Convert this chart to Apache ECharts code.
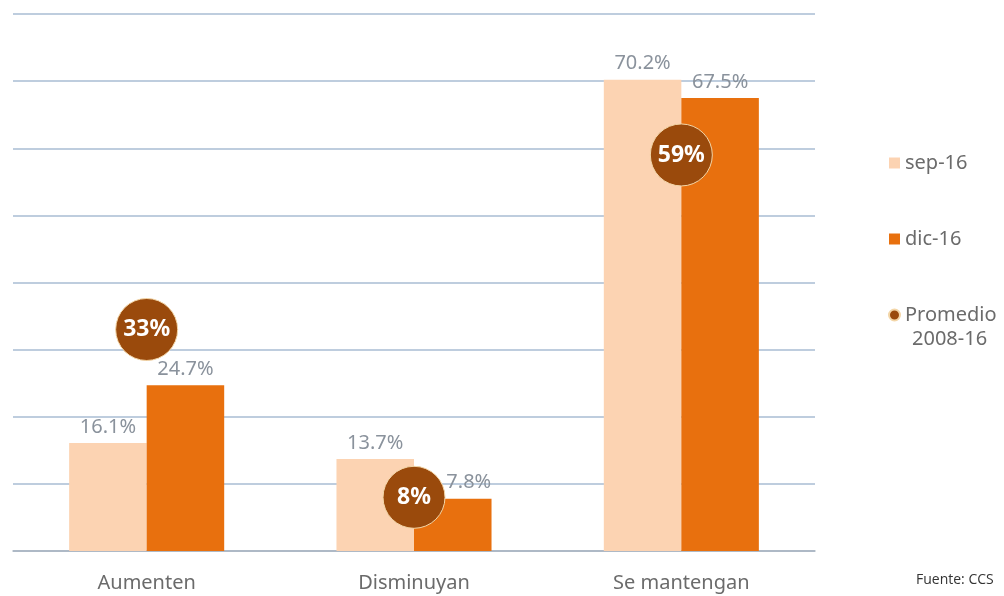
<!DOCTYPE html>
<html>
<head>
<meta charset="utf-8">
<script src="https://cdn.jsdelivr.net/npm/echarts@6/dist/echarts.min.js"></script>
<style>
  html, body { margin: 0; padding: 0; background: #fff; }
  #chart { width: 1004px; height: 596px; }
</style>
</head>
<body>
<div id="chart"></div>
<script>
const categories = ["Aumenten", "Disminuyan", "Se mantengan"];
const sep16 = [16.1, 13.7, 70.2];
const dic16 = [24.7, 7.8, 67.5];
const promedio = [33, 8, 59];

const chart = echarts.init(document.getElementById("chart"));
const fontFamily = "'Noto Sans', sans-serif";

const barLabel = {
  show: true,
  position: "top",
  distance: 6,
  color: "#8a929c",
  fontSize: 20,
  fontFamily: fontFamily,
  formatter: (p) => p.value.toFixed(1) + "%",
};

// the 7.8% label sits a bit to the right in the original, next to the bubble
const dic16Data = dic16.map((v, i) =>
  i === 1 ? { value: v, label: { offset: [16, 0] } } : v
);

const option = {
  animation: false,
  grid: { left: 13, right: 189, top: 14, bottom: 45 },
  xAxis: {
    type: "category",
    data: categories,
    axisTick: { show: false },
    axisLine: { lineStyle: { color: "#a9b3bf", width: 1.5 } },
    axisLabel: { color: "#6b6b6b", fontSize: 20, fontFamily: fontFamily, margin: 22 },
  },
  yAxis: {
    type: "value",
    min: 0,
    max: 80,
    interval: 10,
    axisLabel: { show: false },
    splitLine: { lineStyle: { color: "#a9bdd3", width: 1.5 } },
  },
  legend: {
    orient: "vertical",
    left: 883,
    top: 146,
    itemWidth: 11,
    itemHeight: 11,
    itemGap: 52,
    textStyle: { color: "#6b6b6b", fontSize: 20, fontFamily: fontFamily, lineHeight: 24 },
    data: [
      { name: "sep-16", icon: "rect" },
      { name: "dic-16", icon: "rect" },
      { name: "Promedio", icon: "circle" },
    ],
  },
  graphic: [
    {
      type: "text",
      left: 912,
      top: 329,
      style: { text: "2008-16", fill: "#6b6b6b", font: "20px 'Noto Sans', sans-serif" },
    },
    {
      type: "text",
      left: 916,
      top: 573,
      style: { text: "Fuente: CCS", fill: "#333", font: "14px 'Open Sans', sans-serif" },
    },
  ],
  series: [
    {
      name: "sep-16",
      type: "bar",
      data: sep16,
      barGap: "0%",
      barCategoryGap: "42%",
      itemStyle: { color: "#fcd3b2" },
      label: barLabel,
    },
    {
      name: "dic-16",
      type: "bar",
      data: dic16Data,
      itemStyle: { color: "#e8700e" },
      label: barLabel,
    },
    {
      name: "Promedio",
      type: "scatter",
      data: promedio,
      symbolSize: 62,
      z: 5,
      itemStyle: { color: "#9a4a0c", opacity: 1, borderColor: "#f3d6a8", borderWidth: 1 },
      label: {
        show: true,
        position: "inside",
        color: "#fff",
        fontSize: 23,
        fontWeight: "bold",
        fontFamily: fontFamily,
        formatter: (p) => p.value + "%",
      },
    },
  ],
};

chart.setOption(option);
</script>
</body>
</html>
